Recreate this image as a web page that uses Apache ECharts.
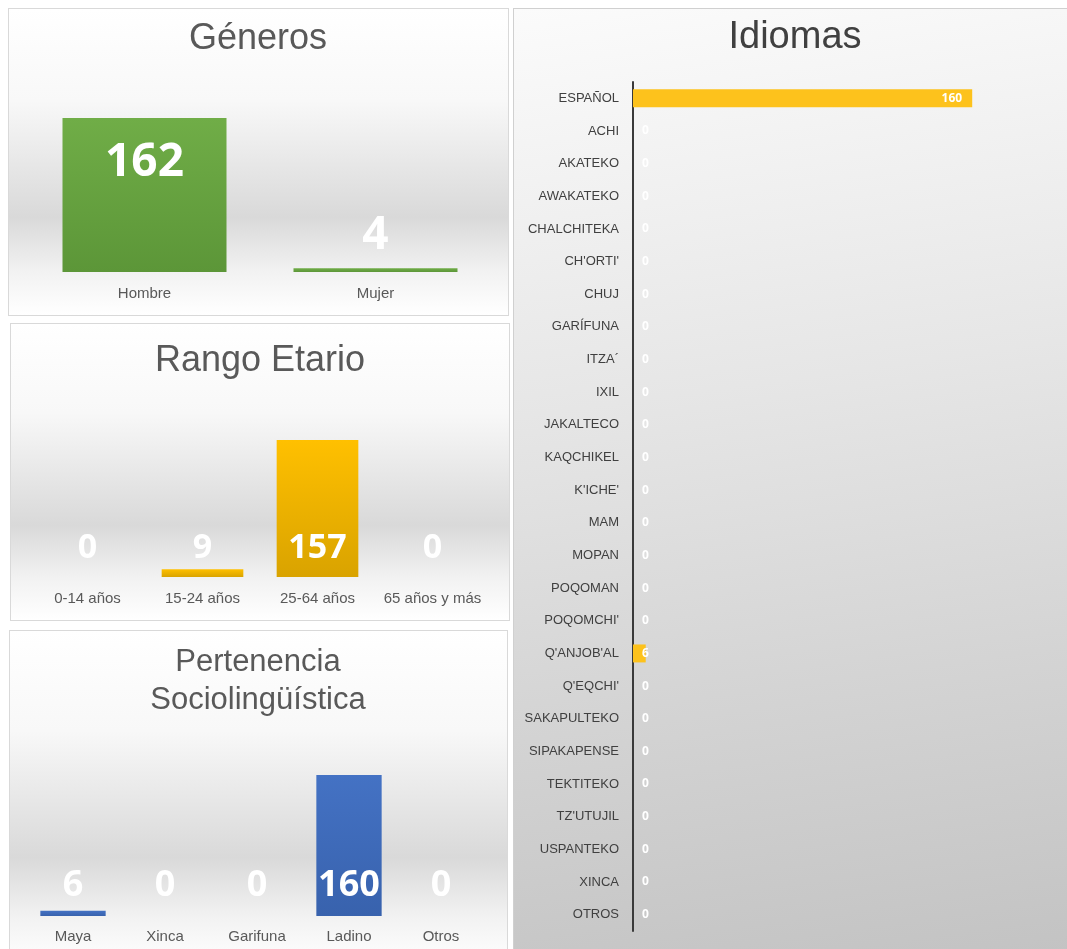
<!DOCTYPE html>
<html>
<head>
<meta charset="utf-8">
<script src="https://cdn.jsdelivr.net/npm/echarts@6/dist/echarts.min.js"></script>
<style>
  body { margin: 0; background: #fff; }
  #wrap { position: relative; width: 1067px; height: 949px; overflow: hidden; }
  .panel { position: absolute; box-sizing: border-box; border: 1px solid #d9d9d9; }
  .band { background: linear-gradient(to bottom, #ffffff 0%, #f8f8f8 30%, #d9d9d9 68%, #f2f2f2 86%, #ffffff 100%); }
  #p4 { background: linear-gradient(172deg, #fbfbfb 0%, #e6e6e6 40%, #d4d4d4 70%, #c3c3c3 100%); border-color: #d0d0d0; }
  #main { position: absolute; left: 0; top: 0; width: 1067px; height: 949px; }
</style>
</head>
<body>
<div id="wrap">
  <div class="panel band" style="left:8px;top:8px;width:501px;height:308px"></div>
  <div class="panel band" style="left:10px;top:323px;width:500px;height:298px"></div>
  <div class="panel band" style="left:9px;top:630px;width:499px;height:335px"></div>
  <div class="panel" id="p4" style="left:513px;top:8px;width:556px;height:945px"></div>
  <div id="main"></div>
</div>
<script>
// Géneros
const generoCats = ['Hombre', 'Mujer'];
const generoVals = [162, 4];
// Rango Etario
const edadCats = ['0-14 años', '15-24 años', '25-64 años', '65 años y más'];
const edadVals = [0, 9, 157, 0];
// Pertenencia Sociolingüística
const puebloCats = ['Maya', 'Xinca', 'Garifuna', 'Ladino', 'Otros'];
const puebloVals = [6, 0, 0, 160, 0];
// Idiomas
const idiomaCats = ['ESPAÑOL', 'ACHI', 'AKATEKO', 'AWAKATEKO', 'CHALCHITEKA', "CH'ORTI'", 'CHUJ',
  'GARÍFUNA', 'ITZA´', 'IXIL', 'JAKALTECO', 'KAQCHIKEL', "K'ICHE'", 'MAM', 'MOPAN', 'POQOMAN',
  "POQOMCHI'", "Q'ANJOB'AL", "Q'EQCHI'", 'SAKAPULTEKO', 'SIPAKAPENSE', 'TEKTITEKO', "TZ'UTUJIL",
  'USPANTEKO', 'XINCA', 'OTROS'];
const idiomaVals = [160, 0, 0, 0, 0, 0, 0, 0, 0, 0, 0, 0, 0, 0, 0, 0, 0, 6, 0, 0, 0, 0, 0, 0, 0, 0];

function grad(top, bottom) {
  return new echarts.graphic.LinearGradient(0, 0, 0, 1, [
    { offset: 0, color: top }, { offset: 1, color: bottom }
  ]);
}

const titleFont = '"Liberation Sans", Arial, sans-serif';
const numFont = '"Open Sans", sans-serif';

function titleText(text, x, y, size, color) {
  return {
    type: 'text', x: x, y: y, z: 10,
    style: { text: text, fill: color, fontSize: size, fontFamily: titleFont,
      align: 'center', verticalAlign: 'middle', lineHeight: 38 }
  };
}

function catAxis(idx, cats, margin) {
  return {
    type: 'category', gridIndex: idx, data: cats,
    axisLine: { show: false }, axisTick: { show: false },
    axisLabel: { interval: 0, color: '#595959', fontSize: 15, fontFamily: titleFont, margin: margin }
  };
}

function valAxis(idx) {
  return { type: 'value', gridIndex: idx, min: 0, max: 'dataMax', show: false, splitLine: { show: false } };
}

// Géneros: big bar label inside the top, small bar label above it
const generoData = generoVals.map(v => ({
  value: v,
  label: v > 50 ? { position: 'insideTop', distance: 22 } : { position: 'top', distance: 9 }
}));

// Idiomas: label inside the end for long bars, just right of the axis otherwise
const idiomaData = idiomaVals.map(v => ({
  value: v,
  label: v > 20 ? { position: 'insideRight', distance: 10 } : { position: 'insideLeft', distance: 9 }
}));

const bigLabel = size => ({
  show: true, color: '#ffffff', fontSize: size, fontWeight: 'bold', fontFamily: numFont
});

const chart = echarts.init(document.getElementById('main'));
chart.setOption({
  animation: false,
  graphic: [
    titleText('Géneros', 258, 39, 36, '#595959'),
    titleText('Rango Etario', 260, 361, 36, '#595959'),
    titleText('Pertenencia\nSociolingüística', 258, 681, 31, '#595959'),
    titleText('Idiomas', 795, 38, 38, '#404040')
  ],
  grid: [
    { left: 29, width: 462, top: 118, height: 154 },
    { left: 30, width: 460, top: 440, height: 137 },
    { left: 27, width: 460, top: 775, height: 141 },
    { left: 633, width: 424, top: 82, height: 849 }
  ],
  xAxis: [
    catAxis(0, generoCats, 14),
    catAxis(1, edadCats, 14),
    catAxis(2, puebloCats, 13),
    { type: 'value', gridIndex: 3, min: 0, max: 200, show: false, splitLine: { show: false } }
  ],
  yAxis: [
    valAxis(0),
    valAxis(1),
    valAxis(2),
    {
      type: 'category', gridIndex: 3, data: idiomaCats, inverse: true,
      axisLine: { show: true, lineStyle: { color: '#3a3a3a', width: 2 } },
      axisTick: { show: false },
      axisLabel: { interval: 0, color: '#404040', fontSize: 13, fontFamily: titleFont, margin: 14 }
    }
  ],
  series: [
    {
      type: 'bar', xAxisIndex: 0, yAxisIndex: 0, data: generoData, barWidth: '71%',
      itemStyle: { color: grad('#70ad47', '#5c9638') },
      label: bigLabel(46)
    },
    {
      type: 'bar', xAxisIndex: 1, yAxisIndex: 1, data: edadVals, barWidth: '71%',
      itemStyle: { color: grad('#ffc000', '#d9a300') },
      label: Object.assign(bigLabel(34), { position: 'insideBottom', distance: 12 })
    },
    {
      type: 'bar', xAxisIndex: 2, yAxisIndex: 2, data: puebloVals, barWidth: '71%',
      itemStyle: { color: grad('#4472c4', '#3862ad') },
      label: Object.assign(bigLabel(36), { position: 'insideBottom', distance: 12 })
    },
    {
      type: 'bar', xAxisIndex: 3, yAxisIndex: 3, data: idiomaData, barWidth: '55%',
      itemStyle: { color: '#fdc21c' },
      label: { show: true, color: '#ffffff', fontSize: 12, fontWeight: 'bold', fontFamily: numFont }
    }
  ]
});
</script>
</body>
</html>
